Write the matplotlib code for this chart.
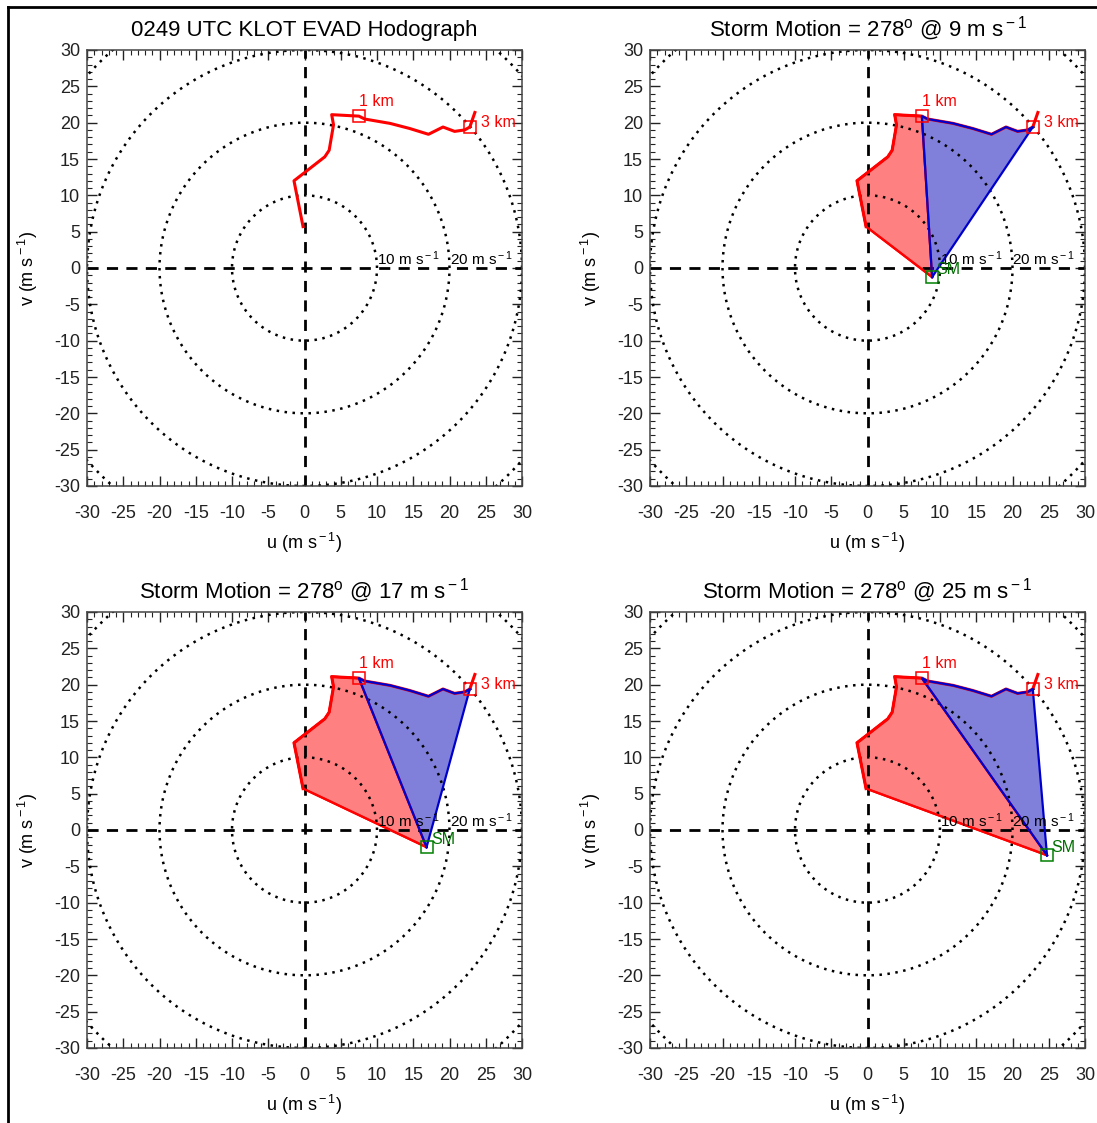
import numpy as np
import matplotlib
matplotlib.use('Agg')
import matplotlib.pyplot as plt
from matplotlib.ticker import MultipleLocator
from matplotlib.lines import Line2D

plt.rcParams['font.family'] = ['Liberation Sans', 'DejaVu Sans']
plt.rcParams['mathtext.fontset'] = 'custom'
plt.rcParams['mathtext.rm'] = 'Liberation Sans'
plt.rcParams['mathtext.it'] = 'Liberation Sans'
plt.rcParams['axes.unicode_minus'] = False

# === Daten ===
# Hodograph (u, v in m/s), vom Boden bis oberhalb 3 km
u_hodo = [-0.2, -1.45, 2.8, 3.4, 4.0, 3.75, 7.5, 8.3, 11.8, 14.5, 17.1, 19.1, 20.7, 22.1, 22.8, 23.5]
v_hodo = [5.7, 12.0, 15.3, 16.2, 19.7, 21.1, 20.9, 20.5, 19.9, 19.2, 18.4, 19.4, 18.8, 19.0, 19.4, 21.4]
i_1km = 6
i_3km = 14

sm_dir = 278             # Grad
sm_speeds = [9, 17, 25]  # m/s
ring_radii = [10, 20, 30, 40]
ring_labels = [10, 20]
tick_vals = list(range(-30, 31, 5))
# ==============

titles = ['0249 UTC KLOT EVAD Hodograph'] + \
    [r'Storm Motion = %d$^{\rm o}$ @ %d m s$^{\rm -1}$' % (sm_dir, s) for s in sm_speeds]

fig = plt.figure(figsize=(10.97, 11.23), dpi=100)
W, H = 1097, 1123
rects = [(87, 50), (650, 50), (87, 612), (650, 612)]
axes = [fig.add_axes([x / W, 1 - (y + 436) / H, 435 / W, 436 / H]) for x, y in rects]

theta = np.linspace(0, 2 * np.pi, 721)
red_fill = '#FF8080'
blue_fill = '#8080DA'

for k, ax in enumerate(axes):
    ax.set_xlim(-30, 30)
    ax.set_ylim(-30, 30)

    # Ringe und Achsenkreuz
    for r in ring_radii:
        ax.plot(r * np.cos(theta), r * np.sin(theta), color='black', lw=1.8,
                linestyle=(0, (1, 2.2)), zorder=2)
    ax.axhline(0, color='black', lw=2, linestyle=(0, (4, 3)), zorder=2)
    ax.axvline(0, color='black', lw=2, linestyle=(0, (4, 3)), zorder=2)
    for r in ring_labels:
        ax.text(r, 0.05, r'%d m s$^{\rm -1}$' % r, fontsize=11, ha='left', va='bottom',
                color='black', zorder=6)

    if k > 0:
        spd = sm_speeds[k - 1]
        sm_u = -spd * np.sin(np.radians(sm_dir))
        sm_v = -spd * np.cos(np.radians(sm_dir))
        pu = [sm_u] + u_hodo[:i_1km + 1]
        pv = [sm_v] + v_hodo[:i_1km + 1]
        ax.fill(pu, pv, facecolor=red_fill, edgecolor='red', lw=1.6, zorder=1)
        ax.plot(pu + [sm_u], pv + [sm_v], color='red', lw=1.6, zorder=3)
        ax.plot(u_hodo, v_hodo, color='red', lw=2.2, zorder=3)
        bu = [sm_u] + u_hodo[i_1km:i_3km + 1]
        bv = [sm_v] + v_hodo[i_1km:i_3km + 1]
        ax.fill(bu, bv, facecolor=blue_fill, edgecolor='none', zorder=1)
        ax.plot(bu + [sm_u], bv + [sm_v], color='#0000CC', lw=1.6, zorder=4)
        ax.plot(sm_u, sm_v, 's', ms=8, mfc='none', mec='green', mew=1.1, zorder=5)
        ax.text(sm_u + 0.6, sm_v + 1.1, 'SM', color='#007000', fontsize=11.5,
                ha='left', va='center', zorder=6)
    else:
        ax.plot(u_hodo, v_hodo, color='red', lw=2.2, zorder=3)

    for i, lab, du, dv in [(i_1km, '1 km', 0.0, 2.0), (i_3km, '3 km', 1.6, 0.6)]:
        ax.plot(u_hodo[i], v_hodo[i], 's', ms=8, mfc='none', mec='red', mew=1.1, zorder=5)
        ax.text(u_hodo[i] + du, v_hodo[i] + dv, lab, color='red', fontsize=11.5,
                ha='left', va='center', zorder=6)

    ax.set_xticks(tick_vals)
    ax.set_yticks(tick_vals)
    ax.xaxis.set_minor_locator(MultipleLocator(1))
    ax.yaxis.set_minor_locator(MultipleLocator(1))
    ax.tick_params(which='both', direction='in', top=True, right=True, colors='#222222')
    ax.tick_params(which='major', length=7, width=1)
    ax.tick_params(which='minor', length=3.5, width=0.8)
    ax.tick_params(axis='x', which='major', pad=14, labelsize=13)
    ax.tick_params(axis='y', which='major', pad=5, labelsize=13)
    for sp in ax.spines.values():
        sp.set_color('#444444')
        sp.set_linewidth(1.1)
    ax.set_xlabel(r'u (m s$^{\rm -1}$)', fontsize=13, labelpad=6)
    ax.set_ylabel(r'v (m s$^{\rm -1}$)', fontsize=13, labelpad=10)
    ax.set_title(titles[k], fontsize=16, pad=10)

# Rahmen links und oben
fig.add_artist(Line2D([7.5 / W, 7.5 / W], [0, 1 - 7 / H], color='black', lw=2))
fig.add_artist(Line2D([7.5 / W, 1], [1 - 7 / H, 1 - 7 / H], color='black', lw=2))

fig.savefig('out.png', dpi=100)
